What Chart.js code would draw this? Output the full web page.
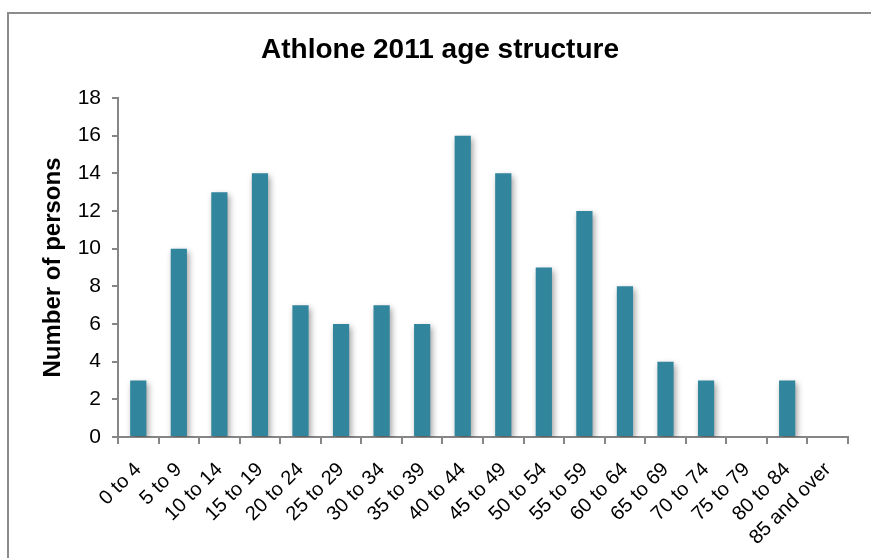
<!DOCTYPE html>
<html>
<head>
<meta charset="utf-8">
<script src="https://cdn.jsdelivr.net/npm/chart.js@4.4.0/dist/chart.umd.min.js"></script>
<style>
  html, body { margin: 0; padding: 0; background: #fff; }
  #wrap { position: relative; width: 871px; height: 558px; }
  #frame { position: absolute; left: 7px; top: 12px; right: -10px; bottom: -10px;
           border-left: 2px solid #8c8c8c; border-top: 2px solid #8c8c8c; pointer-events: none; }
  canvas { position: absolute; left: 0; top: 0; }
</style>
</head>
<body>
<div id="wrap">
  <canvas id="c" width="871" height="558"></canvas>
  <div id="frame"></div>
</div>
<script>
// Age bands and head counts
const ageGroups = ['0 to 4', '5 to 9', '10 to 14', '15 to 19', '20 to 24', '25 to 29',
  '30 to 34', '35 to 39', '40 to 44', '45 to 49', '50 to 54', '55 to 59',
  '60 to 64', '65 to 69', '70 to 74', '75 to 79', '80 to 84', '85 and over'];
const persons = [3, 10, 13, 14, 7, 6, 7, 6, 16, 14, 9, 12, 8, 4, 3, 0, 3, 0];
const yTicks = [0, 2, 4, 6, 8, 10, 12, 14, 16, 18];
const chartTitle = 'Athlone 2011 age structure';

const FONT = "'Liberation Sans', Arial, sans-serif";
const AXIS = '#868686';

// soft drop shadow behind the bars
const barShadow = {
  id: 'barShadow',
  beforeDatasetsDraw(chart) {
    const ctx = chart.ctx;
    ctx.save();
    ctx.shadowColor = 'rgba(0,0,0,0.38)';
    ctx.shadowBlur = 6;
    ctx.shadowOffsetX = 2;
    ctx.shadowOffsetY = 3;
  },
  afterDatasetsDraw(chart) {
    chart.ctx.restore();
  }
};

// heading, centred over the plot a little right of the canvas middle
const heading = {
  id: 'heading',
  afterDraw(chart) {
    const ctx = chart.ctx;
    ctx.save();
    ctx.font = 'bold 28px ' + FONT;
    ctx.fillStyle = '#000';
    ctx.textAlign = 'center';
    ctx.textBaseline = 'alphabetic';
    ctx.fillText(chartTitle, 440, 58);
    ctx.restore();
  }
};

new Chart(document.getElementById('c'), {
  type: 'bar',
  data: {
    labels: ageGroups,
    datasets: [{
      data: persons,
      backgroundColor: '#31859c',
      borderWidth: 0,
      barPercentage: 0.8,
      categoryPercentage: 0.5
    }]
  },
  options: {
    responsive: false,
    animation: false,
    layout: { padding: { left: 0, right: 23, top: 98, bottom: 0 } },
    plugins: {
      legend: { display: false },
      tooltip: { enabled: false },
      title: { display: false }
    },
    scales: {
      y: {
        min: 0, max: 18,
        afterBuildTicks(scale) { scale.ticks = yTicks.map(v => ({ value: v })); },
        afterFit(scale) { scale.width = 118; },
        border: { display: true, color: AXIS, width: 2 },
        grid: { drawOnChartArea: false, drawTicks: true, tickLength: 6, color: AXIS, lineWidth: 2 },
        ticks: { color: '#000', padding: 11, font: { family: FONT, size: 21 } },
        title: {
          display: true,
          text: 'Number of persons',
          color: '#000',
          font: { family: FONT, size: 24, weight: 'bold' },
          padding: { top: 39, bottom: 0 }
        }
      },
      x: {
        afterFit(scale) { scale.height = 121; },
        border: { display: true, color: AXIS, width: 2 },
        grid: { drawOnChartArea: false, drawTicks: true, tickLength: 7, color: AXIS, lineWidth: 2, offset: true },
        ticks: {
          color: '#000',
          padding: 14,
          minRotation: 45, maxRotation: 45,
          autoSkip: false,
          font: { family: FONT, size: 20 }
        }
      }
    }
  },
  plugins: [barShadow, heading]
});
</script>
</body>
</html>
